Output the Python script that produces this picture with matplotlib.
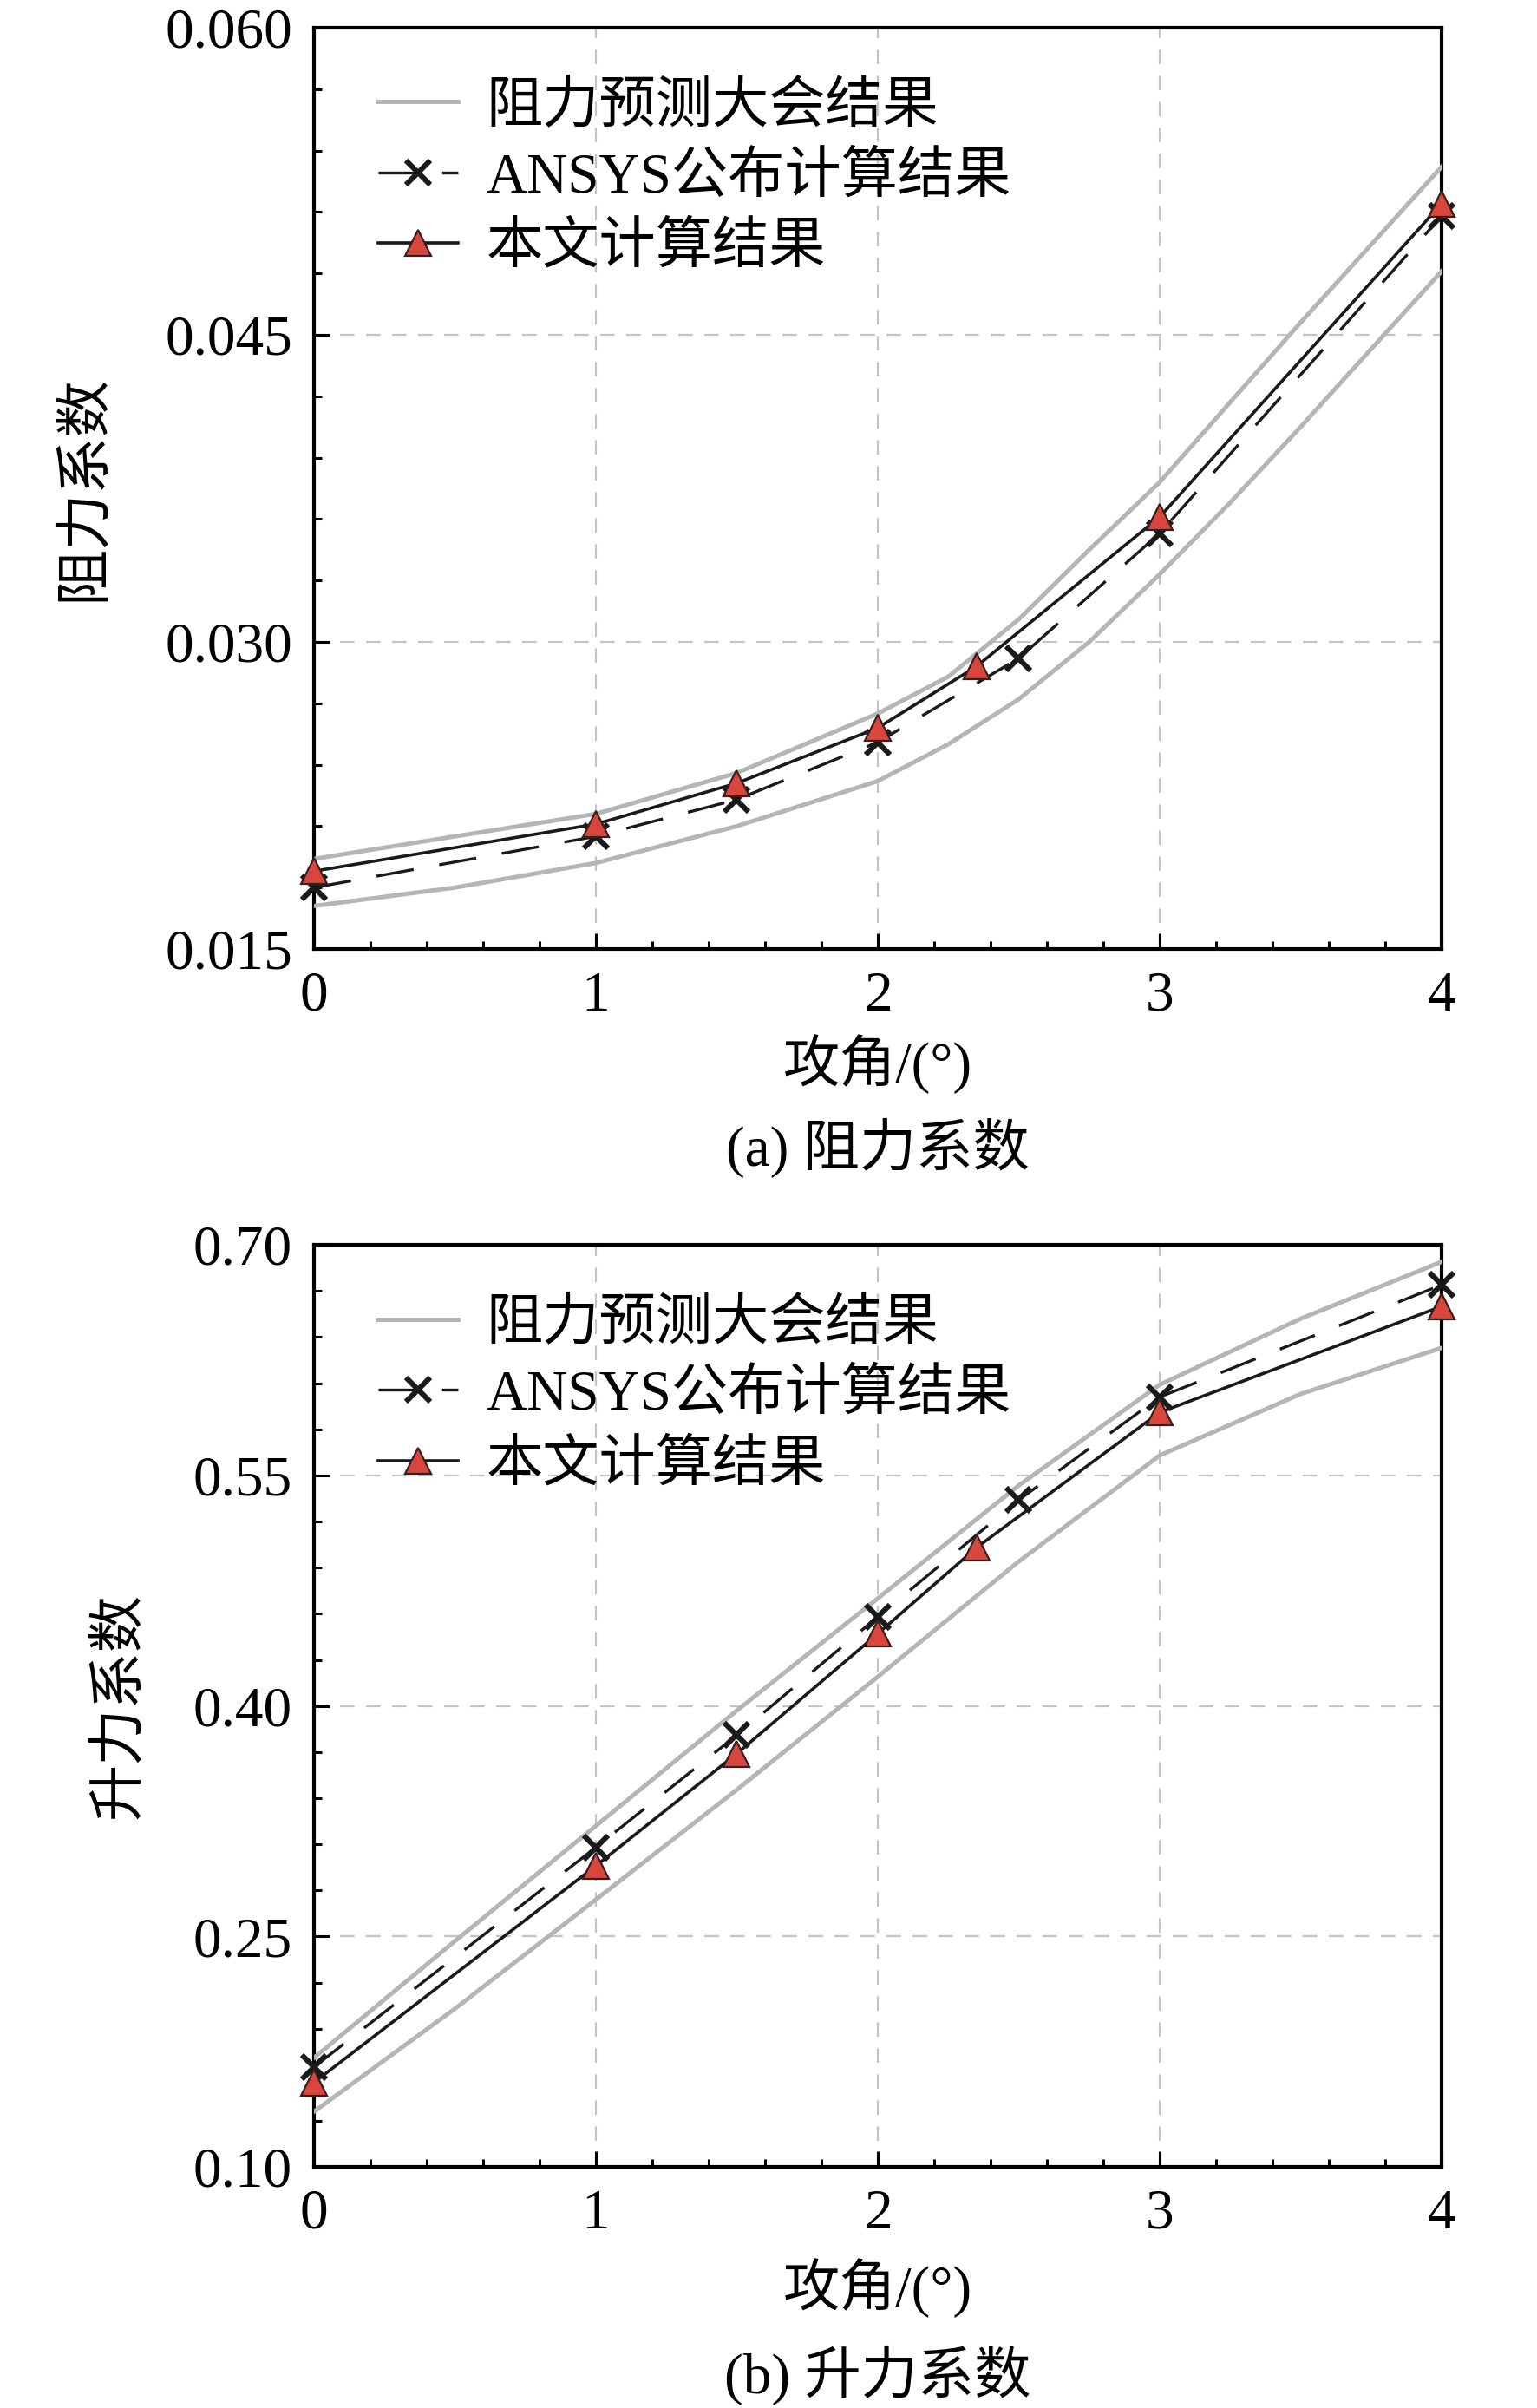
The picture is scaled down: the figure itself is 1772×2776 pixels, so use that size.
import numpy as np
import matplotlib
matplotlib.use('Agg')
import matplotlib.pyplot as plt
from matplotlib.ticker import MultipleLocator, FormatStrFormatter

plt.rcParams['font.family'] = ['Liberation Serif', 'Noto Sans CJK SC', 'DejaVu Sans']
plt.rcParams['axes.unicode_minus'] = False

# angles of attack (deg)
angles_cd_bound = [0, 0.5, 1, 1.5, 2, 2.25, 2.5, 2.75, 3, 3.25, 3.5, 3.75, 4]
angles_cl_bound = [0, 0.5, 1, 1.5, 2, 2.5, 3, 3.5, 4]
angles_ansys = [0, 1, 1.5, 2, 2.5, 3, 4]
angles_this = [0, 1, 1.5, 2, 2.35, 3, 4]

# drag coefficient
cd_upper = [0.0194, 0.0205, 0.0216, 0.0236, 0.0265, 0.0283, 0.0311, 0.0345,
            0.0378, 0.0417, 0.0456, 0.0494, 0.0532]
cd_lower = [0.0171, 0.0180, 0.0192, 0.0210, 0.0232, 0.0250, 0.0272, 0.0300,
            0.0333, 0.0368, 0.0405, 0.0443, 0.0481]
cd_ansys = [0.0180, 0.0205, 0.0223, 0.0251, 0.0292, 0.0353, 0.0508]
cd_this = [0.0188, 0.0211, 0.0231, 0.0258, 0.0288, 0.0361, 0.0514]

# lift coefficient
cl_upper = [0.171, 0.247, 0.322, 0.397, 0.470, 0.5435, 0.609, 0.652, 0.689]
cl_lower = [0.136, 0.203, 0.274, 0.3455, 0.419, 0.494, 0.563, 0.603, 0.633]
cl_ansys = [0.165, 0.308, 0.381, 0.458, 0.534, 0.601, 0.674]
cl_this = [0.155, 0.296, 0.369, 0.447, 0.503, 0.591, 0.660]

lab_dpw = '阻力预测大会结果'
lab_ansys = 'ANSYS公布计算结果'
lab_this = '本文计算结果'

fs = 23.5
gray = '#b5b5b5'
red = '#d9463e'

fig = plt.figure(figsize=(8.86, 13.88), dpi=200)
ax1 = fig.add_axes([0.2043, 0.6059, 0.7336, 0.3826])
ax2 = fig.add_axes([0.2043, 0.1001, 0.7336, 0.3829])


def draw(ax, xb, upper, lower, ansys, this, ylim, ymaj, ymin, yfmt):
    ax.plot(xb, upper, color=gray, lw=1.8, label=lab_dpw, zorder=3)
    ax.plot(xb, lower, color=gray, lw=1.8, zorder=3)
    ax.plot(angles_ansys, ansys, color='#1a1a1a', lw=1.2, ls=(0, (13, 9)),
            marker='x', markersize=10, markeredgewidth=2.2, label=lab_ansys,
            zorder=4, clip_on=False)
    ax.plot(angles_this, this, color='#1a1a1a', lw=1.3, marker='^',
            markersize=10.5, markerfacecolor=red, markeredgecolor='#3a1d1d',
            markeredgewidth=0.8, label=lab_this, zorder=5, clip_on=False)
    ax.set_xlim(0, 4)
    ax.set_ylim(*ylim)
    ax.xaxis.set_major_locator(MultipleLocator(1))
    ax.xaxis.set_minor_locator(MultipleLocator(0.2))
    ax.yaxis.set_major_locator(MultipleLocator(ymaj, offset=ylim[0]))
    ax.yaxis.set_minor_locator(MultipleLocator(ymin, offset=ylim[0]))
    ax.yaxis.set_major_formatter(FormatStrFormatter(yfmt))
    ax.grid(True, which='major', color='#c4c4c4', ls=(0, (7.5, 6)), lw=0.8)
    ax.set_axisbelow(True)
    ax.tick_params(which='both', direction='in', top=False, right=False,
                   width=1.1, labelsize=fs)
    ax.tick_params(which='major', length=6.5, pad=9)
    ax.tick_params(which='minor', length=3.2)
    for sp in ax.spines.values():
        sp.set_linewidth(1.5)
    ax.legend(loc='upper left', bbox_to_anchor=(0.057, 0.942),
              frameon=False, fontsize=fs, handlelength=1.4,
              handletextpad=0.5, labelspacing=0.32, borderpad=0,
              borderaxespad=0)


draw(ax1, angles_cd_bound, cd_upper, cd_lower, cd_ansys, cd_this,
     (0.015, 0.060), 0.015, 0.003, '%.3f')
draw(ax2, angles_cl_bound, cl_upper, cl_lower, cl_ansys, cl_this,
     (0.10, 0.70), 0.15, 0.03, '%.2f')

ax1.set_ylabel('阻力系数', fontsize=fs)
ax1.yaxis.set_label_coords(-0.18, 0.5)
ax2.set_ylabel('升力系数', fontsize=fs)
ax2.yaxis.set_label_coords(-0.149, 0.5)

for ax, xl_y, cap_y, cap in [(ax1, -0.1252, -0.2156, '(a) 阻力系数'),
                             (ax2, -0.1308, -0.2258, '(b) 升力系数')]:
    ax.text(0.5, xl_y, '攻角/(°)', transform=ax.transAxes, ha='center',
            va='center', fontsize=fs)
    ax.text(0.5, cap_y, cap, transform=ax.transAxes, ha='center',
            va='center', fontsize=fs)

fig.savefig('out.png', dpi=200, facecolor='white')
